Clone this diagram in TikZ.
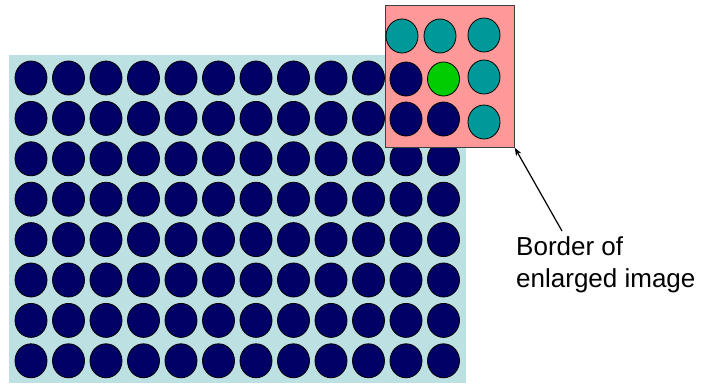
\documentclass[tikz,border=0pt]{standalone}
\usepackage{fontspec}
\setmainfont{Liberation Sans}
\usetikzlibrary{shapes.geometric,arrows.meta}
\definecolor{bgblue}{HTML}{BDE0E3}
\definecolor{navy}{HTML}{000066}
\definecolor{tealc}{HTML}{009999}
\definecolor{greenc}{HTML}{00CC00}
\definecolor{pinkc}{HTML}{FF9999}
\tikzset{
  dot/.style={ellipse, draw=black, line width=0.8pt, minimum width=32pt, minimum height=34pt, inner sep=0pt},
  navydot/.style={dot, fill=navy},
  tealdot/.style={dot, fill=tealc},
  greendot/.style={dot, fill=greenc},
  pointer/.style={-{Stealth[length=8pt,width=6pt]}, line width=1.2pt, black}
}
\begin{document}
\begin{tikzpicture}[x=1pt,y=-1pt]
\useasboundingbox (0,0) rectangle (703,383);
% background of the image
\node[fill=bgblue, inner sep=0pt, minimum width=457.5pt, minimum height=328pt, anchor=north west] (bg) at (8.5,55) {};
% grid of dots
\foreach \i in {0,...,11}{
  \foreach \j in {0,...,7}{
    \node[navydot] (d-\i-\j) at ({31+37.5*\i},{78+40.4*\j}) {};
  }
}
% enlarged region
\node[fill=pinkc, draw=black!75, line width=0.8pt, inner sep=0pt, minimum width=129pt, minimum height=142pt, anchor=north west] (zoom) at (385,5) {};
\node[tealdot] (t1) at (402,36) {};
\node[tealdot] (t2) at (440,36) {};
\node[tealdot] (t3) at (484,35) {};
\node[tealdot] (t4) at (484,77) {};
\node[tealdot] (t5) at (484,122) {};
\node[navydot] (n1) at (406,79) {};
\node[greendot] (g1) at (443.5,79) {};
\node[navydot] (n2) at (406,119) {};
\node[navydot] (n3) at (443.5,119) {};
% label
\node[anchor=north west, inner sep=0pt, align=left, font=\fontsize{26}{32}\selectfont] (label) at (516,236) {Border of\\enlarged image};
\coordinate (tail) at (562,231);
\draw[pointer] (tail) -- (zoom.south east);
\end{tikzpicture}
\end{document}
